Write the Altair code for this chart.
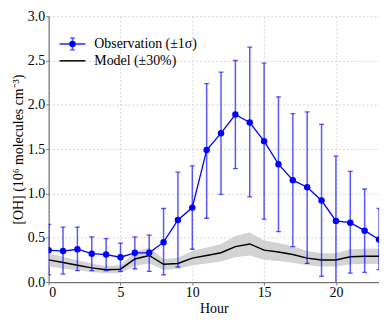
import altair as alt
import pandas as pd

hours = list(range(24))
obs = [0.36, 0.35, 0.37, 0.32, 0.31, 0.28, 0.33, 0.33, 0.45, 0.70, 0.84, 1.49,
       1.68, 1.89, 1.80, 1.59, 1.33, 1.15, 1.07, 0.92, 0.69, 0.67, 0.58, 0.48]
obs_hi = [0.65, 0.62, 0.62, 0.51, 0.49, 0.44, 0.51, 0.53, 0.83, 1.24, 1.31, 2.24,
          2.37, 2.50, 2.65, 2.47, 2.09, 1.90, 1.92, 1.78, 1.42, 1.25, 1.05, 0.83]
obs_lo = [0.08, 0.09, 0.13, 0.13, 0.13, 0.12, 0.15, 0.12, 0.08, 0.17, 0.37, 0.72,
          0.99, 1.28, 0.96, 0.71, 0.57, 0.40, 0.21, 0.065, -0.05, 0.10, 0.11, 0.14]
model = [0.25, 0.22, 0.19, 0.16, 0.14, 0.145, 0.26, 0.30, 0.20, 0.21, 0.27, 0.30,
         0.33, 0.40, 0.43, 0.36, 0.34, 0.31, 0.27, 0.25, 0.25, 0.285, 0.29, 0.29]
model_lo = [0.175, 0.154, 0.133, 0.112, 0.098, 0.10, 0.182, 0.21, 0.14, 0.147, 0.189, 0.21,
            0.231, 0.28, 0.30, 0.252, 0.238, 0.217, 0.189, 0.175, 0.175, 0.20, 0.203, 0.203]
model_hi = [0.325, 0.286, 0.247, 0.208, 0.182, 0.19, 0.338, 0.39, 0.26, 0.273, 0.351, 0.39,
            0.429, 0.52, 0.56, 0.468, 0.442, 0.403, 0.351, 0.325, 0.325, 0.37, 0.377, 0.377]

df = pd.DataFrame({"hour": hours, "obs": obs, "hi": obs_hi, "lo": obs_lo,
                   "model": model, "mlo": model_lo, "mhi": model_hi})

FONT = "Times New Roman, Liberation Serif, serif"
BLUE = "#0000ff"

xs = alt.Scale(domain=[0, 23], nice=False, zero=False)
ys = alt.Scale(domain=[0, 3], nice=False)

xenc = alt.X("hour:Q", scale=xs, title="Hour",
             axis=alt.Axis(values=[0, 5, 10, 15, 20], format="d"))
yenc = alt.Y("obs:Q", scale=ys, title="[OH] (10⁶ molecules cm⁻³)",
             axis=alt.Axis(values=[0, 0.5, 1.0, 1.5, 2.0, 2.5, 3.0], format=".1f"))

base = alt.Chart(df)

band = base.mark_area(color="#c8c8c8", opacity=0.8, clip=True).encode(
    x=xenc, y=alt.Y("mlo:Q", scale=ys, title="[OH] (10⁶ molecules cm⁻³)"), y2="mhi:Q")
mline = base.mark_line(color="black", strokeWidth=1.5, clip=True).encode(
    x=xenc, y=alt.Y("model:Q", scale=ys))
err = base.mark_rule(color=BLUE, opacity=0.65, strokeWidth=1.5, clip=True).encode(
    x=xenc, y=alt.Y("lo:Q", scale=ys), y2="hi:Q")
cap_hi = base.mark_tick(color=BLUE, opacity=0.65, orient="horizontal", size=5,
                        thickness=1.3, clip=True).encode(x=xenc, y=alt.Y("hi:Q", scale=ys))
cap_lo = base.mark_tick(color=BLUE, opacity=0.65, orient="horizontal", size=5,
                        thickness=1.3, clip=True).encode(x=xenc, y=alt.Y("lo:Q", scale=ys))
oline = base.mark_line(color=BLUE, strokeWidth=1.3, clip=True).encode(x=xenc, y=yenc)
opts = base.mark_circle(color=BLUE, opacity=1, size=42, clip=True).encode(x=xenc, y=yenc)

# legend
leg_labels = ["Observation (±1σ)", "Model (±30%)"]
l1 = alt.Chart(pd.DataFrame({"label": [leg_labels[0]]}))
l2 = alt.Chart(pd.DataFrame({"label": [leg_labels[1]]}))
leg_obs_line = l1.mark_rule(color=BLUE, strokeWidth=1.3).encode(
    x=alt.value(11), x2=alt.value(37), y=alt.value(28))
leg_obs_err = l1.mark_rule(color=BLUE, opacity=0.65, strokeWidth=1.5).encode(
    x=alt.value(24), y=alt.value(22), y2=alt.value(34))
leg_obs_c1 = l1.mark_rule(color=BLUE, opacity=0.65, strokeWidth=1.3).encode(
    x=alt.value(21.5), x2=alt.value(26.5), y=alt.value(22))
leg_obs_c2 = l1.mark_rule(color=BLUE, opacity=0.65, strokeWidth=1.3).encode(
    x=alt.value(21.5), x2=alt.value(26.5), y=alt.value(34))
leg_obs_pt = l1.mark_circle(color=BLUE, opacity=1, size=42).encode(
    x=alt.value(24), y=alt.value(28))
leg_mod_line = l2.mark_rule(color="black", strokeWidth=1.5).encode(
    x=alt.value(11), x2=alt.value(37), y=alt.value(45))
leg_t1 = l1.mark_text(align="left", baseline="middle", font=FONT, fontSize=14,
                      color="black").encode(x=alt.value(46), y=alt.value(28), text="label:N")
leg_t2 = l2.mark_text(align="left", baseline="middle", font=FONT, fontSize=14,
                      color="black").encode(x=alt.value(46), y=alt.value(45), text="label:N")

chart = alt.layer(
    band, mline, err, cap_hi, cap_lo, oline, opts,
    leg_obs_line, leg_obs_err, leg_obs_c1, leg_obs_c2, leg_obs_pt, leg_mod_line,
    leg_t1, leg_t2
).properties(
    width=333, height=268,
    autosize=alt.AutoSizeParams(type="none"),
    padding={"left": 41, "top": 7, "right": 0, "bottom": 37},
).configure_view(stroke=None).configure_axis(
    labelFont=FONT, titleFont=FONT, labelFontSize=14, titleFontSize=14,
    labelColor="black", titleColor="black", titleFontWeight="normal",
    domainColor="#777777", domainWidth=1.2, tickColor="#777777", tickSize=3,
    grid=True, gridColor="#d6d6d6", gridDash=[2, 2], gridWidth=1,
    labelPadding=1, titlePadding=2,
)

chart.save("out.html", embed_options={"renderer": "svg", "actions": False})
